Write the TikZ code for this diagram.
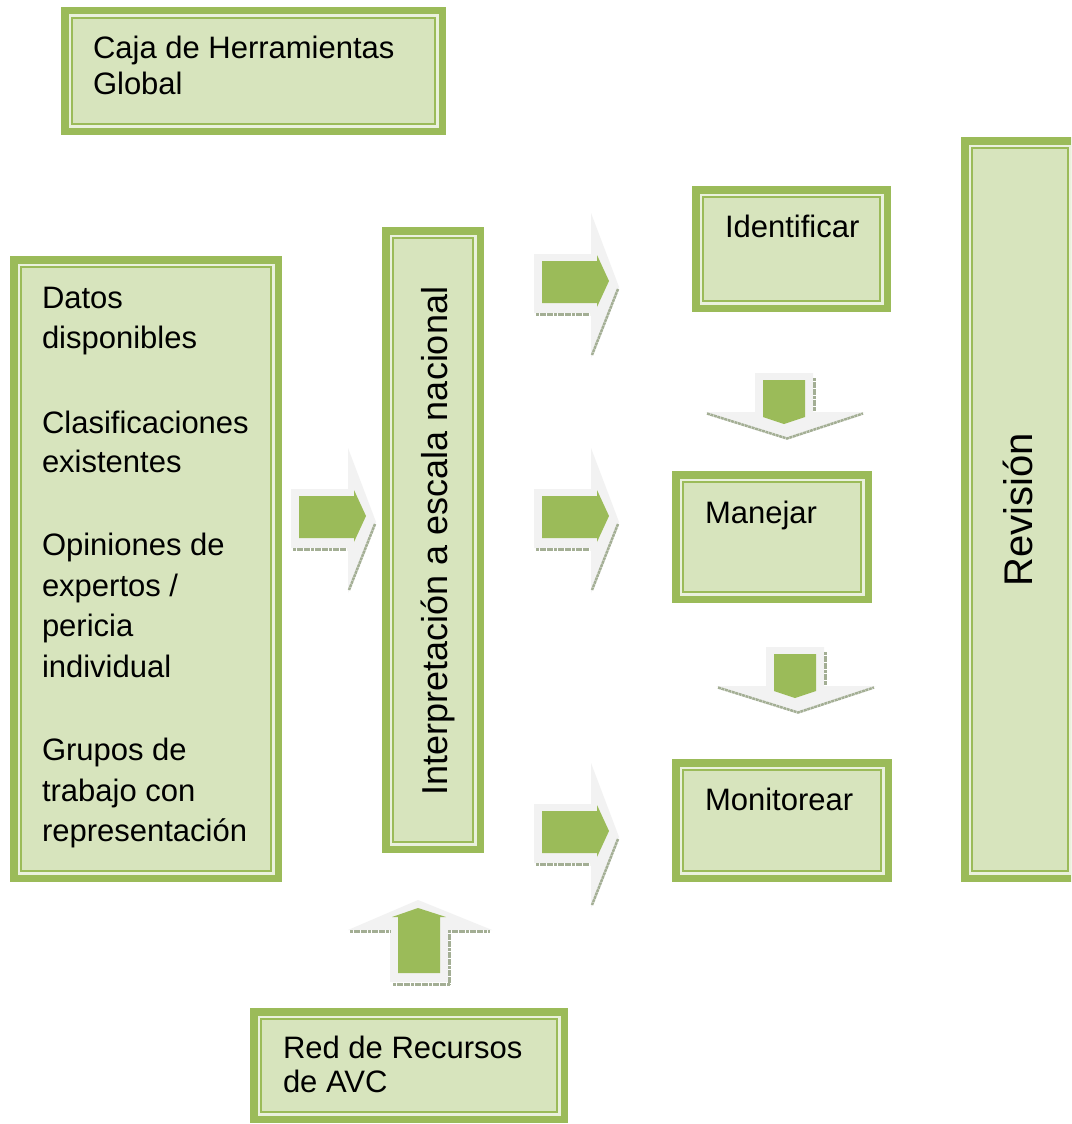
\documentclass[tikz,border=0pt]{standalone}
\usepackage{fontspec}
\setmainfont{Liberation Sans}
\definecolor{og}{HTML}{9BBB59}
\definecolor{ofill}{HTML}{D7E4BD}
\definecolor{ostripe}{HTML}{EAF1DD}
\definecolor{agrey}{HTML}{F2F2F2}
\definecolor{ashadow}{HTML}{A3AE94}
\tikzset{
  gbox/.style={rectangle, inner sep=0pt, outer sep=0pt, fill=og, anchor=north west,
    path picture={
      \fill[ostripe] ([shift={(7.5pt,7.5pt)}]path picture bounding box.south west) rectangle ([shift={(-7.5pt,-7.5pt)}]path picture bounding box.north east);
      \fill[og] ([shift={(10pt,10pt)}]path picture bounding box.south west) rectangle ([shift={(-10pt,-10pt)}]path picture bounding box.north east);
      \fill[ofill] ([shift={(12pt,12pt)}]path picture bounding box.south west) rectangle ([shift={(-12pt,-12pt)}]path picture bounding box.north east);
    }},
  txt/.style={anchor=base west, inner sep=0pt, outer sep=0pt, font=\fontsize{31}{36}\selectfont},
  vtxt/.style={anchor=base, rotate=90, inner sep=0pt, outer sep=0pt},
  arrout/.style={fill=agrey},
  arrin/.style={fill=og},
  arrshadow/.style={draw=ashadow, line width=2.5pt, dash pattern=on 3pt off 0.6pt},
}
\newcommand{\myRightArrow}[2]{%
  \begin{scope}[shift={(#1,#2)}]
    \fill[arrout] (-85,-33) -- (-28,-33) -- (-28,-74) -- (0,0) -- (-28,71) -- (-28,26) -- (-85,26) -- cycle;
    \draw[arrshadow] (-83,27.5) -- (-29,27.5);
    \draw[arrshadow] (-1,2) -- (-27,68);
    \fill[arrin] (-77,-26) -- (-22,-26) -- (-22,-32) -- (-10,-6) -- (-22,20) -- (-22,16) -- (-77,16) -- cycle;
  \end{scope}}
\newcommand{\myDownArrow}[2]{%
  \begin{scope}[shift={(#1,#2)}]
    \fill[arrout] (-32,-64) -- (26,-64) -- (26,-25) -- (78,-25) -- (0,0) -- (-82,-25) -- (-32,-25) -- cycle;
    \draw[arrshadow] (27.5,-59) -- (27.5,-26);
    \draw[arrshadow] (-80,-23.5) -- (0,1.5) -- (76,-23.5);
    \fill[arrin] (-24,-57) -- (18,-57) -- (18,-20) -- (-3,-13) -- (-24,-20) -- cycle;
  \end{scope}}
\newcommand{\myUpArrow}[2]{%
  \begin{scope}[shift={(#1,#2)}]
    \fill[arrout] (0,0) -- (74,30) -- (30,30) -- (30,82) -- (-28,82) -- (-28,30) -- (-70,30) -- cycle;
    \draw[arrshadow] (-68,31.5) -- (-28,31.5);
    \draw[arrshadow] (30,31.5) -- (72,31.5);
    \draw[arrshadow] (31.5,30) -- (31.5,85);
    \draw[arrshadow] (-25,84.5) -- (32,84.5);
    \fill[arrin] (0,8) -- (28,17) -- (22,17) -- (22,73) -- (-20,73) -- (-20,17) -- (-26,17) -- cycle;
  \end{scope}}
\begin{document}
\begin{tikzpicture}[x=1pt, y=-1pt]
  \clip (0,0) rectangle (1071,1124);
  \fill[white] (0,0) rectangle (1071,1124);

  % boxes
  \node[gbox, minimum width=385pt, minimum height=128pt] (caja) at (61,7) {};
  \node[gbox, minimum width=272pt, minimum height=626pt] (datos) at (10,256) {};
  \node[gbox, minimum width=102pt, minimum height=626pt] (interp) at (382,227) {};
  \node[gbox, minimum width=199pt, minimum height=126pt] (ident) at (692,186) {};
  \node[gbox, minimum width=200pt, minimum height=132pt] (manejar) at (672,471) {};
  \node[gbox, minimum width=220pt, minimum height=123pt] (monit) at (672,759) {};
  \node[gbox, minimum width=118pt, minimum height=745pt] (revision) at (961,137) {};
  \node[gbox, minimum width=318pt, minimum height=115pt] (red) at (250,1008) {};

  % texts
  \node[txt] (caja1) at (93,59) {Caja de Herramientas};
  \node[txt] (caja2) at (93,94) {Global};
  \foreach \t/\yy [count=\i] in {Datos/308, disponibles/348.5, Clasificaciones/433, existentes/472.5,
      Opiniones de/555, expertos \slash/596, pericia/636.5, individual/677,
      Grupos de/760, trabajo con/801, representación/841.5}
    \node[txt] (d\i) at (42,\yy) {\t};
  \node[txt] (identt) at (725,237) {Identificar};
  \node[txt] (manejart) at (705,523) {Manejar};
  \node[txt] (monitt) at (705,810) {Monitorear};
  \node[txt] (red1) at (283,1058) {Red de Recursos};
  \node[txt] (red2) at (283,1092) {de AVC};
  \node[vtxt, font=\fontsize{36}{40}\selectfont] (interpt) at (447,541) {Interpretación a escala nacional};
  \node[vtxt, font=\fontsize{40}{46}\selectfont] (revisiont) at (1032,510) {Revisión};

  % block arrows
  \myRightArrow{376}{522}
  \myRightArrow{619}{287}
  \myRightArrow{619}{522}
  \myRightArrow{619}{837}
  \myDownArrow{787}{437}
  \myDownArrow{798}{711}
  \myUpArrow{418}{900}
\end{tikzpicture}
\end{document}
